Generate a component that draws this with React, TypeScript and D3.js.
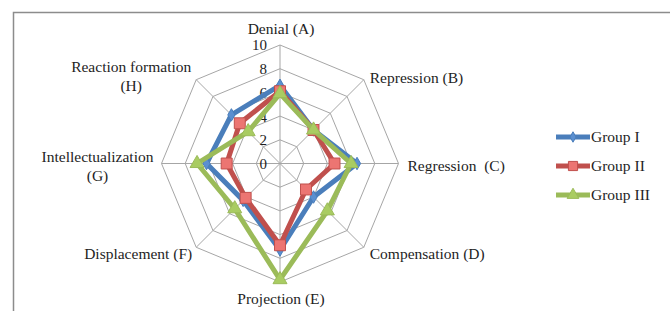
import React, { useEffect, useRef } from 'react';
import * as d3 from 'd3';

const categories = [
  'Denial (A)',
  'Repression (B)',
  'Regression  (C)',
  'Compensation (D)',
  'Projection (E)',
  'Displacement (F)',
  'Intellectualization\n(G)',
  'Reaction formation\n(H)',
];
const groupI = [6.6, 4.0, 6.5, 4.0, 7.3, 4.4, 6.2, 5.8];
const groupII = [6.1, 4.0, 4.6, 3.1, 6.9, 4.1, 4.5, 4.8];
const groupIII = [5.9, 4.0, 6.0, 5.65, 9.8, 5.4, 7.0, 3.8];
const seriesNames = ['Group I', 'Group II', 'Group III'];
const ticks = [0, 2, 4, 6, 8, 10];

const colors = ['#4a7ebb', '#c0504d', '#9bbb59'];
const fills = ['#5b8fd0', '#ec7572', '#a9cc62'];
const shapes = [d3.symbolDiamond, d3.symbolSquare, d3.symbolTriangle];
const sizes = [45, 120, 85];

// label offsets from the end of each spoke: [dx, dy, anchor]
const labelPos: [number, number, string][] = [
  [1, -15, 'middle'],
  [6, -1, 'start'],
  [9, 3, 'start'],
  [6, 8, 'start'],
  [1, 18, 'middle'],
  [-4, 8, 'end'],
  [-64, -6, 'middle'],
  [-65, -12, 'middle'],
];

export default function App() {
  const ref = useRef<SVGSVGElement>(null);

  useEffect(() => {
    const svg = d3.select(ref.current);
    svg.selectAll('*').remove();
    const cx = 280, cy = 163.5, R = 118.5;
    const font = "'Liberation Serif', 'DejaVu Serif', serif";
    const ink = '#1e1e1e';
    const n = categories.length;
    const r = d3.scaleLinear().domain([0, 10]).range([0, R]);
    const ang = (i: number) => (i * 2 * Math.PI) / n;
    const pt = (i: number, v: number): [number, number] => [cx + r(v) * Math.sin(ang(i)), cy - r(v) * Math.cos(ang(i))];

    // frame
    svg.append('path').attr('d', 'M13.5,320V12.5H680').attr('fill', 'none').attr('stroke', '#8c8c8c').attr('stroke-width', 1.5);

    const grid = svg.append('g').attr('stroke', '#a6a6a6').attr('fill', 'none').attr('stroke-width', 1);
    ticks.slice(1).forEach(t => {
      grid.append('polygon').attr('points', d3.range(n).map(i => pt(i, t).join(',')).join(' '));
    });
    d3.range(n).forEach(i => {
      const [x, y] = pt(i, 10);
      grid.append('line').attr('x1', cx).attr('y1', cy).attr('x2', x).attr('y2', y);
    });

    svg.append('g').selectAll('text').data(ticks).join('text')
      .attr('x', cx - 13).attr('y', d => cy - r(d) + 2)
      .attr('text-anchor', 'end').attr('dominant-baseline', 'middle')
      .attr('font-family', font).attr('font-size', 15).attr('fill', ink)
      .text(d => d);

    const line = d3.lineRadial<number>().angle((_, i) => ang(i)).radius(d => r(d)).curve(d3.curveLinearClosed);
    [groupI, groupII, groupIII].forEach((data, s) => {
      const g = svg.append('g').attr('transform', `translate(${cx},${cy})`);
      g.append('path').attr('d', line(data)).attr('fill', 'none').attr('stroke', colors[s]).attr('stroke-width', 5).attr('stroke-linejoin', 'round');
      g.selectAll('path.m').data(data).join('path').attr('class', 'm')
        .attr('transform', (d, i) => `translate(${pt(i, d)[0] - cx},${pt(i, d)[1] - cy})`)
        .attr('d', d3.symbol().type(shapes[s]).size(sizes[s])())
        .attr('fill', fills[s]).attr('stroke', colors[s]).attr('stroke-width', 1);
    });

    const labels = svg.append('g').attr('font-family', font).attr('font-size', 15.5).attr('fill', ink);
    categories.forEach((c, i) => {
      const [x, y] = pt(i, 10);
      const [dx, dy, anchor] = labelPos[i];
      const t = labels.append('text').attr('x', x + dx).attr('y', y + dy)
        .attr('text-anchor', anchor).attr('dominant-baseline', 'middle').style('white-space', 'pre');
      c.split('\n').forEach((l, k) => {
        t.append('tspan').attr('x', x + dx).attr('dy', k === 0 ? 0 : 19).text(l);
      });
    });

    const legend = svg.append('g').attr('transform', 'translate(556,137)');
    seriesNames.forEach((name, s) => {
      const g = legend.append('g').attr('transform', `translate(0,${s * 29})`);
      g.append('line').attr('x1', 0).attr('x2', 34).attr('stroke', colors[s]).attr('stroke-width', 5);
      g.append('path').attr('transform', 'translate(17,0)').attr('d', d3.symbol().type(shapes[s]).size(sizes[s] * 0.7)())
        .attr('fill', fills[s]).attr('stroke', colors[s]);
      g.append('text').attr('x', 35).attr('y', 1).attr('dominant-baseline', 'middle')
        .attr('font-family', font).attr('font-size', 15.5).attr('fill', ink).text(name);
    });
  }, []);

  return <svg ref={ref} width={670} height={311} style={{ position: 'absolute', left: 0, top: 0, background: '#fff' }} />;
}
